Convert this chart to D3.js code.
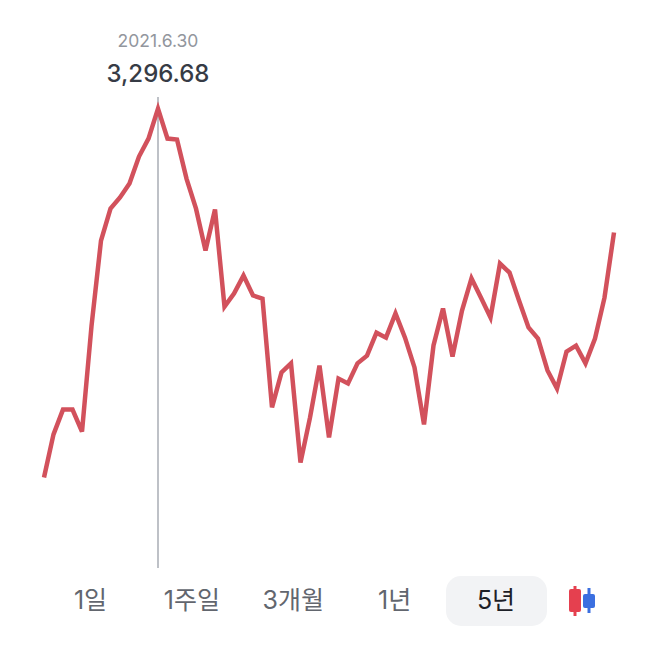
<!DOCTYPE html>
<html>
<head>
<meta charset="utf-8">
<script src="https://cdn.jsdelivr.net/npm/d3@7"></script>
<style>
    html, body { margin: 0; padding: 0; background: #fff; }
    svg { display: block; }
    text { font-family: Inter, "Noto Sans CJK KR", "Noto Sans", sans-serif; }
</style>
</head>
<body>
<script>
//monthly closing values, oldest first
var closes = [
    2107, 2246, 2326, 2326, 2255, 2595, 2871, 2974, 3010, 3055,
    3142, 3200, 3296.68, 3200, 3197, 3071, 2974, 2839, 2971, 2658,
    2700, 2758, 2694, 2684, 2333, 2446, 2475, 2155, 2300, 2468,
    2236, 2426, 2410, 2475, 2500, 2574, 2558, 2636, 2558, 2462,
    2278, 2533, 2652, 2497, 2645, 2749, 2687, 2623, 2797, 2768,
    2678, 2591, 2555, 2452, 2394, 2513, 2532, 2475, 2555, 2687,
    2897
];
var selectedIndex = 12;
var selectedDate = "2021.6.30";
var periods = ["1일", "1주일", "3개월", "1년", "5년"];
var activePeriod = "5년";

window.onload = setChart();

function setChart() {
    //frame dimensions
    var width = 658,
    height = 647;

    var svg = d3.select("body")
    .append("svg")
    .attr("width", width)
    .attr("height", height);

    var x = d3.scaleLinear()
    .domain([0, closes.length - 1])
    .range([44, 614]);

    var y = d3.scaleLinear()
    .domain([2155, 3296.68])
    .range([462.6, 108.6]);

    var periodX = d3.scalePoint()
    .domain(periods)
    .range([90.5, 496]);

    var line = d3.line()
    .x(function(d, i){ return x(i); })
    .y(function(d){ return y(d); });

    //marker for the selected month
    svg.append("line")
    .attr("x1", x(selectedIndex))
    .attr("x2", x(selectedIndex))
    .attr("y1", 97)
    .attr("y2", 568)
    .attr("stroke", "#a9acb4")
    .attr("stroke-width", 1.5);

    svg.append("path")
    .datum(closes)
    .attr("d", line)
    .attr("fill", "none")
    .attr("stroke", "#d2515c")
    .attr("stroke-width", 4.5)
    .attr("stroke-linejoin", "miter");

    //labels above the marker
    svg.append("text")
    .attr("x", x(selectedIndex))
    .attr("y", 47)
    .attr("text-anchor", "middle")
    .attr("font-size", 17.5)
    .attr("fill", "#92969d")
    .text(selectedDate);

    svg.append("text")
    .attr("x", x(selectedIndex))
    .attr("y", 82)
    .attr("text-anchor", "middle")
    .attr("font-size", 24)
    .attr("font-weight", 500)
    .attr("fill", "#363b45")
    .text(d3.format(",.2f")(closes[selectedIndex]));

    //period picker
    svg.append("rect")
    .attr("x", periodX(activePeriod) - 50)
    .attr("y", 576)
    .attr("width", 101)
    .attr("height", 50)
    .attr("rx", 15)
    .attr("fill", "#f2f3f5");

    svg.selectAll(".period")
    .data(periods)
    .enter()
    .append("text")
    .attr("class", "period")
    .attr("x", function(d){ return periodX(d); })
    .attr("y", 609)
    .attr("text-anchor", "middle")
    .attr("font-size", 25)
    .attr("fill", function(d){ return d == activePeriod ? "#1d2027" : "#62666e"; })
    .text(function(d){ return d; });

    //candle icon
    var candles = svg.append("g").attr("class", "candles");
    candles.append("line").attr("x1", 575).attr("x2", 575).attr("y1", 586).attr("y2", 616)
    .attr("stroke", "#e5404f").attr("stroke-width", 3);
    candles.append("rect").attr("x", 569).attr("y", 589).attr("width", 12).attr("height", 23).attr("rx", 2)
    .attr("fill", "#e5404f");
    candles.append("line").attr("x1", 589).attr("x2", 589).attr("y1", 588).attr("y2", 613)
    .attr("stroke", "#3b6fe0").attr("stroke-width", 3);
    candles.append("rect").attr("x", 583).attr("y", 594).attr("width", 12).attr("height", 14).attr("rx", 2)
    .attr("fill", "#3b6fe0");
};
</script>
</body>
</html>
